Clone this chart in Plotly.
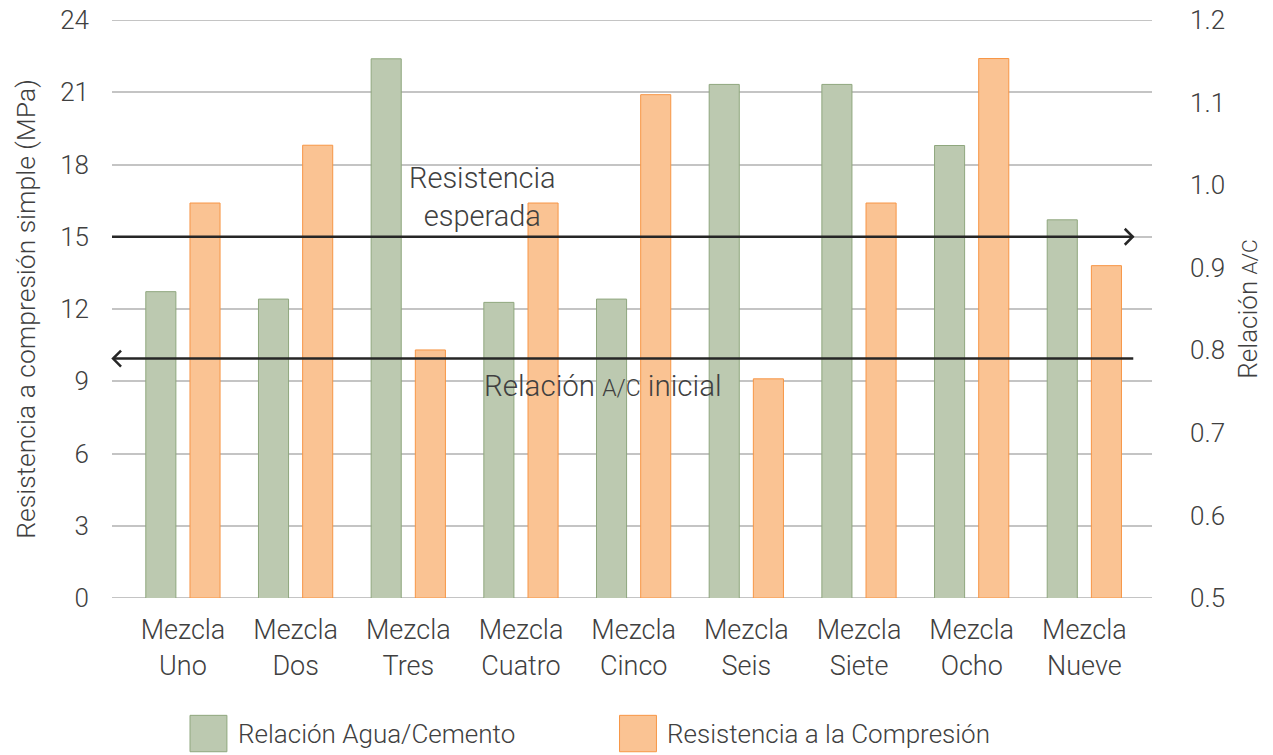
import plotly.graph_objects as go

categorias = ["Mezcla<br>Uno", "Mezcla<br>Dos", "Mezcla<br>Tres", "Mezcla<br>Cuatro", "Mezcla<br>Cinco",
              "Mezcla<br>Seis", "Mezcla<br>Siete", "Mezcla<br>Ocho", "Mezcla<br>Nueve"]
relacion_ac = [0.871, 0.862, 1.153, 0.858, 0.862, 1.122, 1.122, 1.048, 0.958]
resistencia = [16.4, 18.8, 10.3, 16.4, 20.9, 9.1, 16.4, 22.4, 13.8]
resistencia_esperada = 15
relacion_inicial = 0.79
ticks_izq = [0, 3, 6, 9, 12, 15, 18, 21, 24]
ticks_der = [0.5, 0.6, 0.7, 0.8, 0.9, 1.0, 1.1, 1.2]

FONT = "Roboto"
TXT = "#404040"
GREEN_F, GREEN_L = "#BCC9B0", "#8FA77E"
ORANGE_F, ORANGE_L = "#FAC393", "#F79646"
GRID = "#C4C4C4"
SC = "<span style='font-size:{}px'>A/C</span>"

fig = go.Figure()
fig.add_trace(go.Bar(x=list(range(len(categorias))), y=relacion_ac, yaxis="y2", name="Relación Agua/Cemento",
                     marker=dict(color=GREEN_F, line=dict(color=GREEN_L, width=1)),
                     width=0.267, offset=-0.33, showlegend=False))
fig.add_trace(go.Bar(x=list(range(len(categorias))), y=resistencia, yaxis="y", name="Resistencia a la Compresión",
                     marker=dict(color=ORANGE_F, line=dict(color=ORANGE_L, width=1)),
                     width=0.267, offset=0.062, showlegend=False))

fig.update_layout(
    width=1273, height=755,
    margin=dict(l=112, r=121, t=20, b=157, autoexpand=False),
    paper_bgcolor="white", plot_bgcolor="white",
    font=dict(family=FONT, color=TXT, size=26, weight=300),
    barmode="overlay",
    xaxis=dict(range=[-0.63, 8.6], tickmode="array", tickvals=list(range(len(categorias))),
               ticktext=categorias, showgrid=False, zeroline=False, showline=False, automargin=False,
               ticks="outside", ticklen=8, tickcolor="rgba(0,0,0,0)",
               tickfont=dict(family=FONT, size=27, color=TXT, weight=300)),
    yaxis=dict(range=[0, 24], tickvals=ticks_izq, showgrid=True, gridcolor=GRID, gridwidth=2,
               zeroline=False, showline=False, ticklabelstandoff=22, ticklabeloverflow="allow",
               automargin=False,
               tickfont=dict(family=FONT, size=26, color=TXT, weight=300),
               title=dict(text="Resistencia a compresión simple (MPa)", standoff=16,
                          font=dict(family=FONT, size=26.5, color=TXT, weight=300))),
    yaxis2=dict(range=[0.5, 1.2], tickvals=ticks_der, tickformat=".1f", overlaying="y", side="right",
                showgrid=False, zeroline=False, showline=False, ticklabelstandoff=37, ticklabeloverflow="allow",
                automargin=False,
                tickfont=dict(family=FONT, size=26, color=TXT, weight=300),
                title=dict(text="Relación " + SC.format(21), standoff=14,
                           font=dict(family=FONT, size=26, color=TXT, weight=300))),
)

# top and bottom gridlines (at the range edges)
for yv in (ticks_izq[0], ticks_izq[-1]):
    fig.add_shape(type="line", xref="paper", yref="y", x0=0, x1=1, y0=yv, y1=yv,
                  line=dict(color=GRID, width=2), layer="below")

ARROW = "#262626"
# Resistencia esperada arrow (pointing right)
fig.add_shape(type="line", xref="paper", yref="y", x0=0, x1=0.982, y0=resistencia_esperada, y1=resistencia_esperada,
              line=dict(color=ARROW, width=2.5))
fig.add_shape(type="path", xref="paper", yref="y", xsizemode="pixel", ysizemode="pixel",
              xanchor=0.9815, yanchor=resistencia_esperada,
              path="M -8,8 L 0,0 L -8,-8", line=dict(color=ARROW, width=2.5))
# Relación A/C inicial arrow (pointing left)
fig.add_shape(type="line", xref="paper", yref="y2", x0=0.001, x1=0.982, y0=relacion_inicial, y1=relacion_inicial,
              line=dict(color=ARROW, width=2.5))
fig.add_shape(type="path", xref="paper", yref="y2", xsizemode="pixel", ysizemode="pixel",
              xanchor=0.001, yanchor=relacion_inicial,
              path="M 8,8 L 0,0 L 8,-8", line=dict(color=ARROW, width=2.5))

fig.add_annotation(xref="paper", yref="paper", x=0.356, y=0.693, xanchor="center", yanchor="middle",
                   text="Resistencia<br>esperada", showarrow=False,
                   font=dict(family=FONT, size=29, color=TXT, weight=300))
fig.add_annotation(xref="paper", yref="paper", x=0.472, y=0.367, xanchor="center", yanchor="middle",
                   text="Relación " + SC.format(23) + " inicial",
                   showarrow=False, font=dict(family=FONT, size=29.5, color=TXT, weight=300))

# legend
for x0, x1, fc, lc, tx, label in [
    (0.075, 0.1105, GREEN_F, GREEN_L, 0.119, "Relación Agua/Cemento"),
    (0.488, 0.5235, ORANGE_F, ORANGE_L, 0.532, "Resistencia a la Compresión"),
]:
    fig.add_shape(type="rect", xref="paper", yref="paper", x0=x0, x1=x1, y0=-0.203, y1=-0.266,
                  fillcolor=fc, line=dict(color=lc, width=1))
    fig.add_annotation(xref="paper", yref="paper", x=tx, y=-0.2345, xanchor="left", yanchor="middle",
                       text=label, showarrow=False, font=dict(family=FONT, size=26, color=TXT, weight=300))

fig.write_html("out.html", config={"displayModeBar": False},
               post_script="document.body.style.margin='0px';document.body.style.overflow='hidden';")
